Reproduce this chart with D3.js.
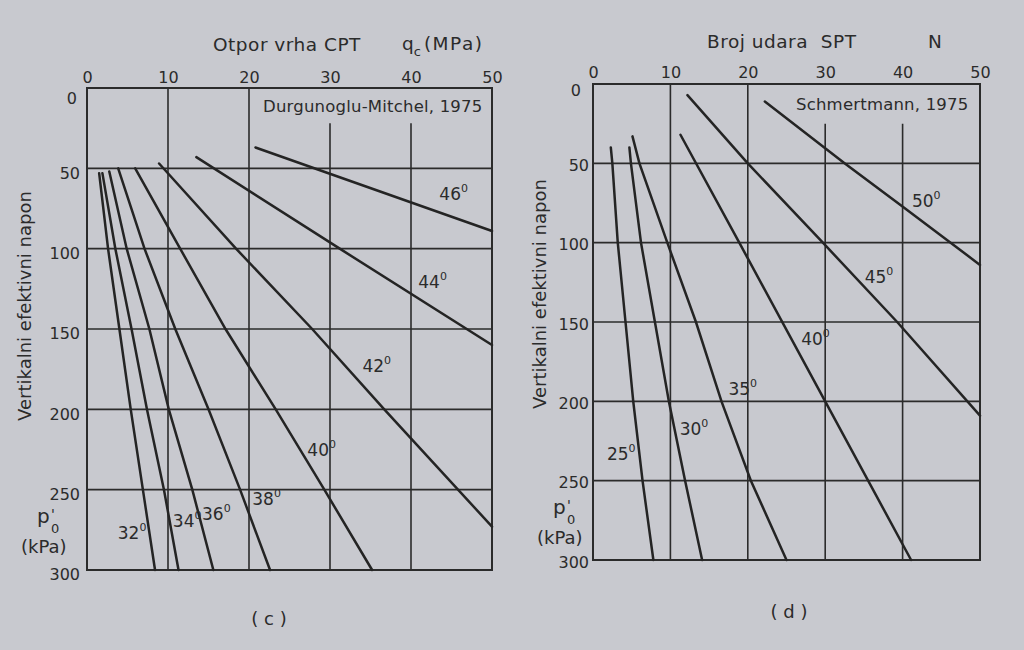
<!DOCTYPE html>
<html><head><meta charset="utf-8">
<script src="https://cdn.jsdelivr.net/npm/d3@7"></script>
<style>
body{margin:0;background:#c8c9cf}
svg{display:block}
text{font-family:"DejaVu Sans",sans-serif;fill:#2b2b2b}
</style>
</head><body>
<svg id="chart" width="1024" height="650"></svg>
<script>
// ---------- DATA ----------
// shared axes
const xTicks = [0, 10, 20, 30, 40, 50];
const pTicks = [0, 50, 100, 150, 200, 250, 300];
const pGrid = [50, 100, 150, 200, 250];
const xGrid = [10, 20, 30, 40];

// (c) CPT cone resistance qc (MPa) vs vertical effective stress p'0 (kPa)
const cptAngles = ["32", "34", "36", "38", "40", "42", "44", "46"];
const cpt32 = [[1.5,53],[2.6,100],[4.0,150],[5.4,200],[6.9,250],[8.4,300]];
const cpt34 = [[1.9,53],[3.5,100],[5.5,150],[7.4,200],[9.5,250],[11.3,300]];
const cpt36 = [[2.75,52],[4.9,100],[7.7,150],[10.1,200],[13.0,250],[15.6,300]];
const cpt38 = [[3.85,50],[7.1,100],[10.9,150],[15.0,200],[18.9,250],[22.6,300]];
const cpt40 = [[5.95,50],[11.5,100],[17.1,150],[23.3,200],[29.3,250],[35.2,300]];
const cpt42 = [[8.9,47],[18.4,100],[27.8,150],[36.7,200],[50,273]];
const cpt44 = [[13.5,43],[31.2,100],[50,160]];
const cpt46 = [[20.8,37],[50,89]];

// (d) SPT blow count N vs vertical effective stress p'0 (kPa)
const sptAngles = ["25", "30", "35", "40", "45", "50"];
const spt25 = [[2.3,40],[2.5,50],[3.2,100],[4.2,150],[5.2,200],[6.4,250],[7.8,300]];
const spt30 = [[4.7,40],[4.9,50],[6.2,100],[8.0,150],[9.8,200],[11.9,250],[14.1,300]];
const spt35 = [[5.1,33],[6.0,50],[9.6,100],[13.3,150],[16.6,200],[20.4,250],[25.0,300]];
const spt40 = [[11.3,32],[18.9,100],[30.0,200],[41.1,300]];
const spt45 = [[12.2,7],[20.0,50],[29.7,100],[39.3,150],[50,209]];
const spt50 = [[22.2,11],[32.5,50],[40.2,78],[50,114]];

// ---------- LAYOUT ----------
const svg = d3.select("#chart");
const INK = "#2b2b2b";

const panels = [
  {
    x: d3.scaleLinear().domain([0,50]).range([87,492]),
    y: d3.scaleLinear().domain([0,300]).range([88,570]),
    series: [cpt32,cpt34,cpt36,cpt38,cpt40,cpt42,cpt44,cpt46],
    angles: cptAngles,
    labelAt: [[3.8,281],[10.6,273],[14.2,269],[20.4,259.5],[27.2,229],[34.0,177],[40.9,124.5],[43.5,69.7]],
    gridGapTop: 22,
    topPad: 5, leftPad: 7, leftDy: "0.62em", zeroDy: 15, zeroDx: -3,
    title: {x:213, y:51, t:"Otpor vrha CPT"},
    unit: {x:402, y:50, main:"q", sub:"c", rest:"(MPa)"},
    source: {x:263, y:112, t:"Durgunoglu-Mitchel, 1975"},
    ytitle: {x:31, y:306},
    p0: {x:37, y:523}, kpa: {x:21, y:553},
    caption: {x:269, y:625, t:"( c )"}
  },
  {
    x: d3.scaleLinear().domain([0,50]).range([593,980]),
    y: d3.scaleLinear().domain([0,300]).range([84,560]),
    series: [spt25,spt30,spt35,spt40,spt45,spt50],
    angles: sptAngles,
    labelAt: [[1.8,237],[11.2,221],[17.5,196],[26.9,164.5],[35.1,125.4],[41.2,77.5]],
    gridGapTop: 25,
    topPad: 6, leftPad: 4, leftDy: "0.45em", zeroDy: 11, zeroDx: -8,
    title: {x:707, y:48, t:"Broj udara  SPT"},
    unit: {x:928, y:48, main:"N"},
    source: {x:796, y:110, t:"Schmertmann, 1975"},
    ytitle: {x:546, y:294},
    p0: {x:553, y:514}, kpa: {x:537, y:544},
    caption: {x:789, y:618, t:"( d )"}
  }
];

const line = (x, y) => d3.line().x(d => x(d[0])).y(d => y(d[1]));

panels.forEach(P => {
  const g = svg.append("g");
  const [x0, x1] = P.x.range();
  const [y0, y1] = P.y.range();

  // horizontal grid
  g.selectAll(".hg").data(pGrid).join("line")
    .attr("x1", x0).attr("x2", x1)
    .attr("y1", d => P.y(d)).attr("y2", d => P.y(d))
    .attr("stroke", INK).attr("stroke-width", 1.6);
  // vertical grid (30 and 40 interrupted by source label)
  g.selectAll(".vg").data(xGrid).join("line")
    .attr("x1", d => P.x(d)).attr("x2", d => P.x(d))
    .attr("y1", d => d >= 30 ? P.y(P.gridGapTop) : y0).attr("y2", y1)
    .attr("stroke", INK).attr("stroke-width", 1.6);
  // frame
  g.append("rect").attr("x", x0).attr("y", y0)
    .attr("width", x1 - x0).attr("height", y1 - y0)
    .attr("fill", "none").attr("stroke", INK).attr("stroke-width", 2);

  // curves
  g.selectAll(".curve").data(P.series).join("path")
    .attr("d", d => line(P.x, P.y)(d))
    .attr("fill", "none").attr("stroke", "#242424")
    .attr("stroke-width", 2.5).attr("stroke-linecap", "round");

  // angle labels
  const lab = g.selectAll(".ang").data(P.angles).join("text")
    .attr("x", (d, i) => P.x(P.labelAt[i][0]))
    .attr("y", (d, i) => P.y(P.labelAt[i][1]))
    .attr("font-size", 17);
  lab.append("tspan").text(d => d);
  lab.append("tspan").attr("font-size", 11).attr("dy", -8).text("0");

  // top axis
  const ax = g.append("g").attr("transform", `translate(0,${y0})`)
    .call(d3.axisTop(P.x).tickValues(xTicks).tickSize(0).tickPadding(P.topPad));
  ax.select(".domain").remove();
  ax.selectAll("text").attr("font-size", 16).attr("fill", INK)
    .style("font-family", '"DejaVu Sans",sans-serif');

  // left axis
  const ay = g.append("g").attr("transform", `translate(${x0},0)`)
    .call(d3.axisLeft(P.y).tickValues(pTicks).tickSize(0).tickPadding(P.leftPad));
  ay.select(".domain").remove();
  ay.selectAll("text").attr("font-size", 16).attr("fill", INK)
    .style("font-family", '"DejaVu Sans",sans-serif')
    .attr("dy", P.leftDy);
  ay.selectAll(".tick").filter(d => d === 0).select("text")
    .attr("dy", null).attr("y", P.zeroDy).attr("dx", P.zeroDx);

  // titles
  g.append("text").attr("x", P.title.x).attr("y", P.title.y)
    .attr("font-size", 18.5).attr("letter-spacing", 0.5)
    .style("white-space", "pre").text(P.title.t);
  const u = g.append("text").attr("x", P.unit.x).attr("y", P.unit.y).attr("font-size", 18.5);
  u.append("tspan").text(P.unit.main);
  if (P.unit.sub) {
    u.append("tspan").attr("font-size", 13).attr("dy", 6).text(P.unit.sub);
    u.append("tspan").attr("dy", -6).attr("dx", 3).attr("letter-spacing", 1.5).text(P.unit.rest);
  }
  g.append("text").attr("x", P.source.x).attr("y", P.source.y)
    .attr("font-size", 16.5).attr("letter-spacing", 0.2).text(P.source.t);

  // y title
  g.append("text").attr("transform", `translate(${P.ytitle.x},${P.ytitle.y}) rotate(-90)`)
    .attr("text-anchor", "middle").attr("font-size", 18).text("Vertikalni efektivni napon");

  // p'0 (kPa)
  g.append("text").attr("x", P.p0.x).attr("y", P.p0.y).attr("font-size", 20).text("p");
  g.append("text").attr("x", P.p0.x + 14).attr("y", P.p0.y - 4).attr("font-size", 14).text("'");
  g.append("text").attr("x", P.p0.x + 14).attr("y", P.p0.y + 10).attr("font-size", 13).text("0");
  g.append("text").attr("x", P.kpa.x).attr("y", P.kpa.y).attr("font-size", 18).text("(kPa)");

  // caption
  g.append("text").attr("x", P.caption.x).attr("y", P.caption.y)
    .attr("text-anchor", "middle").attr("font-size", 18)
    .style("white-space", "pre").text(P.caption.t);
});
</script>
</body></html>
